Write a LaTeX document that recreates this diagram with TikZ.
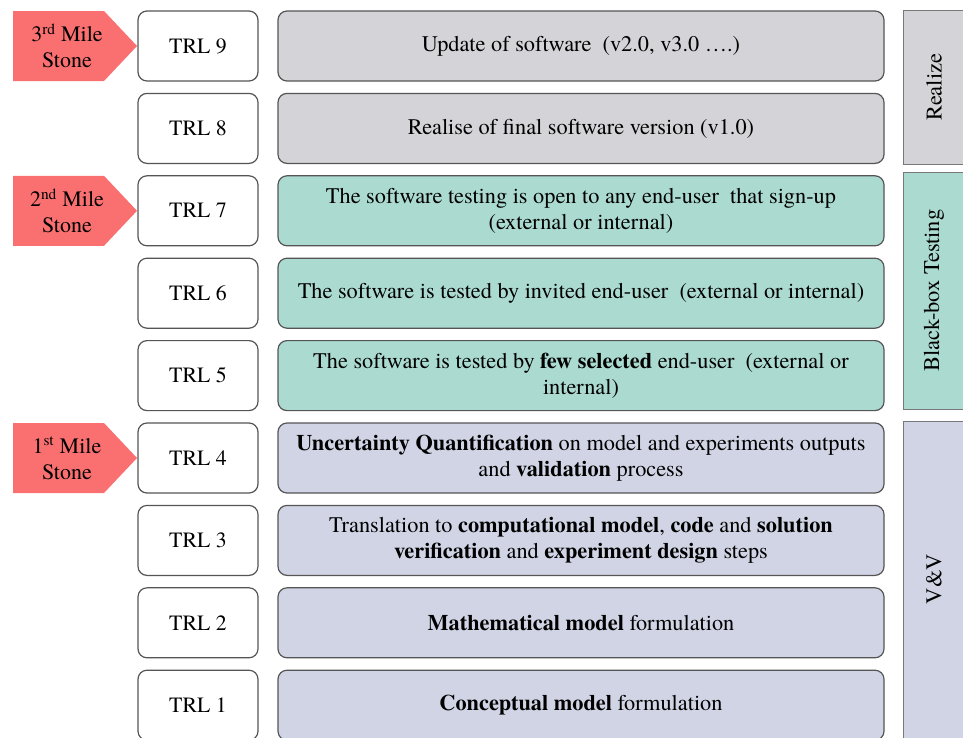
\documentclass[tikz,border=0pt]{standalone}
\usepackage{fontspec}
\setmainfont{texgyretermes}[Extension=.otf, UprightFont=*-regular, BoldFont=*-bold, ItalicFont=*-italic, BoldItalicFont=*-bolditalic]
\definecolor{mscol}{RGB}{250,112,112}
\definecolor{greyfill}{RGB}{212,212,216}
\definecolor{tealfill}{RGB}{171,219,208}
\definecolor{lavfill}{RGB}{208,212,228}
\definecolor{edgecol}{RGB}{85,85,85}
\definecolor{sideedge}{RGB}{120,120,120}
\tikzset{
  txt/.style={font=\fontsize{22.3}{26}\selectfont, align=center},
  trlbox/.style={font=\fontsize{21.8}{26}\selectfont, align=center, draw=edgecol, line width=1.2pt, fill=white, rounded corners=9pt, minimum width=120pt, minimum height=70pt, inner sep=0pt},
  mainbox/.style={txt, draw=edgecol, line width=1.2pt, rounded corners=9pt, minimum width=606pt, minimum height=70pt, inner sep=0pt},
  sidebox/.style={draw=sideedge, line width=1pt},
  sidetxt/.style={font=\fontsize{22.5}{26}\selectfont, rotate=90},
  milestone/.style={fill=mscol, draw=none},
  mstxt/.style={font=\fontsize{22}{26}\selectfont, align=center}
}
\begin{document}
\begin{tikzpicture}[x=1pt,y=-1pt]
\clip (0,0) rectangle (963,737);
\fill[white] (0,0) rectangle (963,737);
% rows
\foreach \i/\n in {0/9,1/8,2/7,3/6,4/5,5/4,6/3,7/2,8/1}{
  \node[trlbox] (trl\n) at (198,{46+82.4*\i}) {TRL \n};
}
\node[mainbox, fill=greyfill] (m9) at (581,46) {Update of software\ \ (v2.0, v3.0 \dots.)};
\node[mainbox, fill=greyfill] (m8) at (581,128.4) {Realise of final software version (v1.0)};
\node[mainbox, fill=tealfill] (m7) at (581,210.8) {The software testing is open to any end-user\ \ that sign-up\\(external or internal)};
\node[mainbox, fill=tealfill] (m6) at (581,293.2) {The software is tested by invited end-user\ \ (external or internal)};
\node[mainbox, fill=tealfill] (m5) at (581,375.6) {The software is tested by \textbf{few selected} end-user\ \ (external or\\internal)};
\node[mainbox, fill=lavfill] (m4) at (581,458) {\textbf{Uncertainty Quantification} on model and experiments outputs\\and \textbf{validation} process};
\node[mainbox, fill=lavfill] (m3) at (581,540.4) {Translation to \textbf{computational model}, \textbf{code} and \textbf{solution}\\\textbf{verification} and \textbf{experiment design} steps};
\node[mainbox, fill=lavfill] (m2) at (581,622.8) {\textbf{Mathematical model} formulation};
\node[mainbox, fill=lavfill] (m1) at (581,705.2) {\textbf{Conceptual model} formulation};
% side groups
\draw[sidebox, fill=greyfill] (903,10) rectangle (965,164);
\node[sidetxt] (realize) at (934,87) {Realize};
\draw[sidebox, fill=tealfill] (903,172) rectangle (965,409);
\node[sidetxt] (blackbox) at (934,290.5) {Black-box Testing};
\draw[sidebox, fill=lavfill] (903,421) rectangle (965,745);
\node[sidetxt] (vv) at (934,579) {V\&V};
% milestones
\foreach \c in {46, 210.8, 458}{
  \fill[milestone] (13,\c-35) -- (104,\c-35) -- (137,\c) -- (104,\c+35) -- (13,\c+35) -- cycle;
}
\node[mstxt] (ms3) at (67,46) {3\textsuperscript{rd} Mile\\Stone};
\node[mstxt] (ms2) at (67,210.8) {2\textsuperscript{nd} Mile\\Stone};
\node[mstxt] (ms1) at (67,458) {1\textsuperscript{st} Mile\\Stone};
\end{tikzpicture}
\end{document}
